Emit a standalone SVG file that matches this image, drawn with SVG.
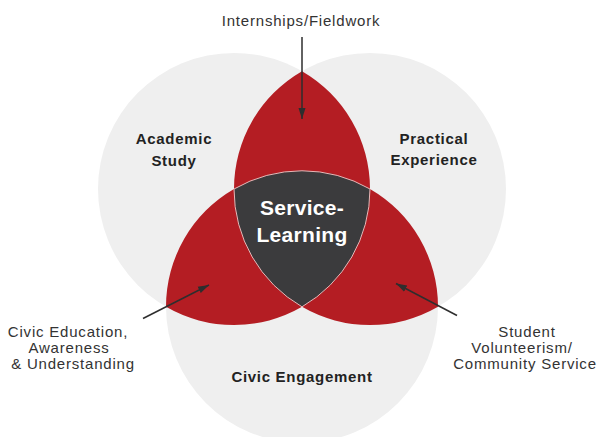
<svg xmlns="http://www.w3.org/2000/svg" width="602" height="437" viewBox="0 0 602 437">
<style>
.circ{fill:#efefef}
.red{fill:#b41d23}
.core{fill:#3b3b3d;stroke:#e9b7b7;stroke-width:1}
.lbl{font-family:"Liberation Sans",Arial,sans-serif;font-weight:bold;font-size:15px;fill:#222;text-anchor:middle;letter-spacing:0.7px}
.ext{font-family:"Liberation Sans",Arial,sans-serif;font-size:15px;fill:#333;text-anchor:middle;letter-spacing:0.8px}
.ctr{font-family:"Liberation Sans",Arial,sans-serif;font-weight:bold;font-size:21px;fill:#ffffff;text-anchor:middle;letter-spacing:0.3px}
.arr{stroke:#2e2e2e;stroke-width:1.5;fill:none;marker-end:url(#ah)}
</style>
<defs>
<marker id="ah" markerUnits="userSpaceOnUse" markerWidth="12" markerHeight="10" viewBox="0 0 12 10" refX="11" refY="5" orient="auto">
<path d="M0,1.5 L11,5 L0,8.5 Z" fill="#2e2e2e"/>
</marker>
</defs>
<rect width="602" height="437" fill="#ffffff"/>
<g id="circles">
<circle class="circ" cx="234" cy="189" r="136"/>
<circle class="circ" cx="370" cy="189" r="136"/>
<circle class="circ" cx="302" cy="306.8" r="136"/>
</g>
<g id="overlaps">
<path class="red" d="M302,71.2 A136,136 0 0 1 370,189 A136,136 0 0 1 438,306.8 A136,136 0 0 1 302,306.8 A136,136 0 0 1 166,306.8 A136,136 0 0 1 234,189 A136,136 0 0 1 302,71.2 Z"/>
</g>
<g id="service-learning">
<path class="core" d="M234,189 A136,136 0 0 1 370,189 A136,136 0 0 1 302,306.8 A136,136 0 0 1 234,189 Z"/>
<text class="ctr" x="302" y="215">Service-</text>
<text class="ctr" x="302" y="242">Learning</text>
</g>
<g id="academic-study">
<text class="lbl" x="174" y="144">Academic</text>
<text class="lbl" x="174" y="166">Study</text>
</g>
<g id="practical-experience">
<text class="lbl" x="434" y="144">Practical</text>
<text class="lbl" x="434" y="165">Experience</text>
</g>
<g id="civic-engagement">
<text class="lbl" x="302" y="382">Civic Engagement</text>
</g>
<g id="internships">
<text class="ext" x="301" y="26">Internships/Fieldwork</text>
</g>
<g id="civic-education">
<text class="ext" x="68" y="337">Civic Education,</text>
<text class="ext" x="69" y="353">Awareness</text>
<text class="ext" x="73" y="369">&amp; Understanding</text>
</g>
<g id="student-volunteerism">
<text class="ext" x="527" y="337">Student</text>
<text class="ext" x="522" y="353">Volunteerism/</text>
<text class="ext" x="525" y="369">Community Service</text>
</g>
<g id="connectors">
<line class="arr" x1="302" y1="37" x2="302" y2="119"/>
<line class="arr" x1="143" y1="318.5" x2="209" y2="285"/>
<line class="arr" x1="457" y1="315.5" x2="396" y2="283.5"/>
</g>
</svg>
